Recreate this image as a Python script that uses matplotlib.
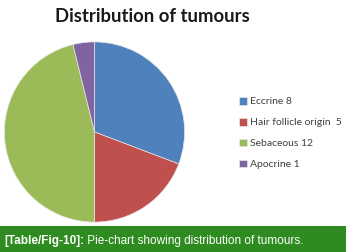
import matplotlib
matplotlib.use('Agg')
from matplotlib import pyplot as plt
from matplotlib.patches import Rectangle
from matplotlib.text import Annotation

labels = ['Eccrine 8', 'Hair follicle origin  5', 'Sebaceous 12', 'Apocrine 1']
counts = [8, 5, 12, 1]
colors = ['#4F81BD', '#C0504D', '#9BBB59', '#8064A2']
title = 'Distribution of tumours'
caption_bold = '[Table/Fig-10]:'
caption_rest = ' Pie-chart showing distribution of tumours.'

fig = plt.figure(figsize=(3.46, 2.52), dpi=100)
fig.patch.set_facecolor('white')

# pie area
ax = fig.add_axes([3 / 346, 1 - 223 / 252, 183 / 346, 182 / 252])
wedges, _ = ax.pie(counts, colors=colors, startangle=90, counterclock=False,
                   wedgeprops=dict(linewidth=0.5, edgecolor='#e8e8e8'))
ax.set_xlim(-1.01, 1.01)
ax.set_ylim(-1.01, 1.01)
ax.set_aspect('equal')

fig.text(152 / 346, 1 - 16 / 252, title, ha='center', va='center',
         fontsize=13.3, fontweight='bold', family='Lato', color='#1a1a1a')

fig.legend(wedges, labels, loc='upper left', bbox_to_anchor=(239 / 346, 1 - 97 / 252),
           frameon=False, prop=dict(family='Lato', size=7.5), labelcolor='#404040',
           handlelength=0.75, handleheight=0.75, handletextpad=0.3,
           labelspacing=1.1, borderpad=0, borderaxespad=0)

# caption bar
fig.patches.append(Rectangle((0, 0), 1, 26 / 252, transform=fig.transFigure,
                             facecolor='#2E8B1F', edgecolor='none', zorder=0))
t1 = fig.text(4 / 346, 1 - 241 / 252, caption_bold, ha='left', va='center',
              fontsize=8.45, fontweight='bold', family='Liberation Sans', color='white')
fig.add_artist(Annotation(caption_rest, xy=(1, 0.5), xycoords=t1,
                          va='center', ha='left', fontsize=8.45,
                          family='Liberation Sans', color='white'))

fig.savefig('out.png', dpi=100)
